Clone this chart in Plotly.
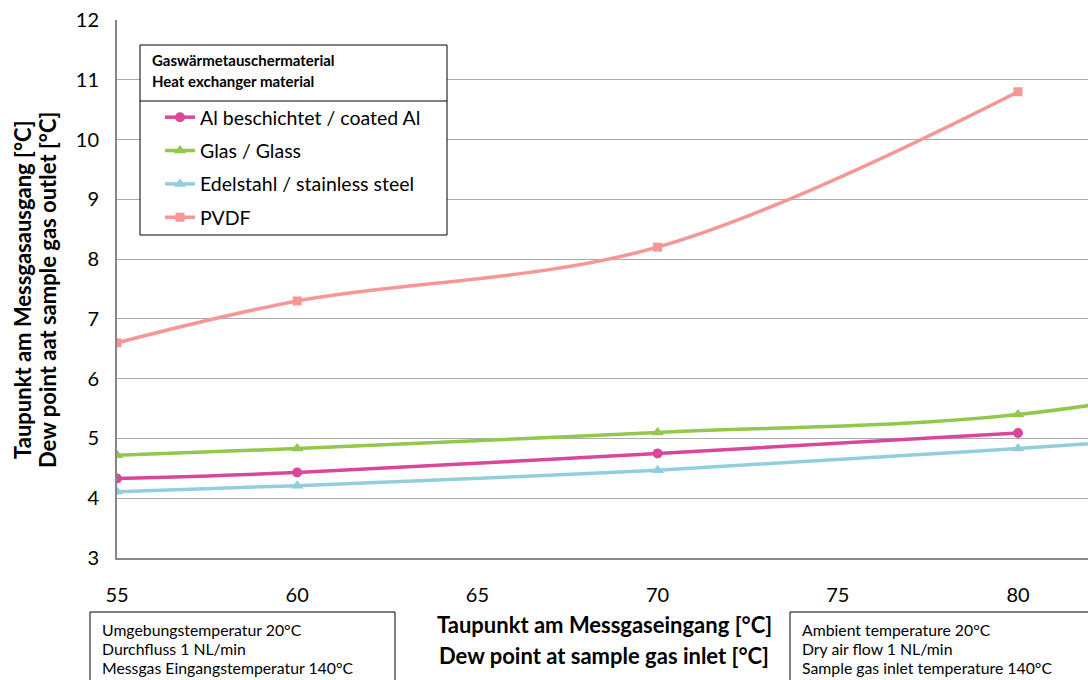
import plotly.graph_objects as go

# ---- data ----
x_al = [55, 60, 70, 80]
y_al = [4.33, 4.43, 4.75, 5.09]
x_glass = [55, 60, 70, 80, 90]
y_glass = [4.72, 4.83, 5.10, 5.40, 6.4]
x_steel = [55, 60, 70, 80, 90]
y_steel = [4.11, 4.21, 4.47, 4.83, 5.25]
x_pvdf = [55, 60, 70, 80]
y_pvdf = [6.6, 7.3, 8.2, 10.8]

names = ["Al beschichtet / coated Al", "Glas / Glass",
         "Edelstahl / stainless steel", "PVDF"]
colors = ["#D9479B", "#92C84B", "#93CEDD", "#F59797"]
symbols = ["circle", "triangle-up", "triangle-up", "square"]
msizes = [10, 11, 11, 9]

x_ticks = [55, 60, 65, 70, 75, 80]
y_ticks = [3, 4, 5, 6, 7, 8, 9, 10, 11, 12]

FONT = "Lato"
W, H = 1088, 680
L, R, T, B = 117, 0, 20, 122
PW, PH = W - L - R, H - T - B


def px(x):
    return (x - L) / PW


def py(y):
    return (H - B - y) / PH


fig = go.Figure()
series = [(x_al, y_al), (x_glass, y_glass), (x_steel, y_steel), (x_pvdf, y_pvdf)]
for i, (xs, ys) in enumerate(series):
    fig.add_trace(go.Scatter(
        x=xs, y=ys, name=names[i], mode="lines+markers",
        line=dict(color=colors[i], width=3.5, shape="spline", smoothing=1.0),
        marker=dict(symbol=symbols[i], size=msizes[i], color=colors[i]),
        legendgroup=f"g{i}", cliponaxis=True,
    ))

shapes = [
    # legend boxes
    dict(type="rect", xref="paper", yref="paper", x0=px(140), x1=px(447),
         y0=py(235), y1=py(45), line=dict(color="black", width=1),
         fillcolor="white", layer="above"),
    dict(type="line", xref="paper", yref="paper", x0=px(140), x1=px(447),
         y0=py(101), y1=py(101), line=dict(color="black", width=1), layer="above"),
    # note boxes
    dict(type="rect", xref="paper", yref="paper", x0=px(90), x1=px(395),
         y0=py(700), y1=py(612), line=dict(color="black", width=1), fillcolor="white"),
    dict(type="rect", xref="paper", yref="paper", x0=px(790), x1=px(1100),
         y0=py(700), y1=py(612), line=dict(color="black", width=1), fillcolor="white"),
]

annotations = [
    dict(text="<b>Gaswärmetauschermaterial</b>", x=px(150), y=py(60), xref="paper",
         yref="paper", xanchor="left", yanchor="middle", showarrow=False,
         font=dict(family=FONT, size=15, color="black")),
    dict(text="<b>Heat exchanger material</b>", x=px(150), y=py(81), xref="paper",
         yref="paper", xanchor="left", yanchor="middle", showarrow=False,
         font=dict(family=FONT, size=15, color="black")),
    dict(text="<b>Taupunkt am Messgaseingang [°C]</b>", x=px(604), y=py(624),
         xref="paper", yref="paper", xanchor="center", yanchor="middle",
         showarrow=False, font=dict(family=FONT, size=22, color="black")),
    dict(text="<b>Dew point at sample gas inlet [°C]</b>", x=px(604), y=py(655),
         xref="paper", yref="paper", xanchor="center", yanchor="middle",
         showarrow=False, font=dict(family=FONT, size=22, color="black")),
    dict(text="<b>Taupunkt am Messgasausgang [°C]</b>", x=px(22), y=py(290),
         xref="paper", yref="paper", xanchor="center", yanchor="middle",
         textangle=-90, showarrow=False, font=dict(family=FONT, size=22, color="black")),
    dict(text="<b>Dew point aat sample gas outlet [°C]</b>", x=px(47), y=py(290),
         xref="paper", yref="paper", xanchor="center", yanchor="middle",
         textangle=-90, showarrow=False, font=dict(family=FONT, size=22, color="black")),
]
left_lines = ["Umgebungstemperatur 20°C", "Durchfluss 1 NL/min",
              "Messgas Eingangstemperatur 140°C"]
right_lines = ["Ambient temperature 20°C", "Dry air flow 1 NL/min",
               "Sample gas inlet temperature 140°C"]
for j, (a, b) in enumerate(zip(left_lines, right_lines)):
    yy = 629 + j * 19.5
    annotations.append(dict(text=a, x=px(100), y=py(yy), xref="paper", yref="paper",
                            xanchor="left", yanchor="middle", showarrow=False,
                            font=dict(family=FONT, size=15.8, color="black")))
    annotations.append(dict(text=b, x=px(800), y=py(yy), xref="paper", yref="paper",
                            xanchor="left", yanchor="middle", showarrow=False,
                            font=dict(family=FONT, size=15.8, color="black")))

fig.update_layout(
    width=W, height=H,
    margin=dict(l=L, r=R, t=T, b=B),
    paper_bgcolor="white", plot_bgcolor="white",
    font=dict(family=FONT, color="black"),
    showlegend=True,
    legend=dict(x=px(160), y=py(98), xanchor="left", yanchor="top",
                bgcolor="rgba(0,0,0,0)", borderwidth=0,
                font=dict(family=FONT, size=19.5, color="black"),
                tracegroupgap=5, itemwidth=30),
    shapes=shapes,
    annotations=annotations,
    xaxis=dict(range=[55, 55 + PW / 36.04], tickvals=x_ticks, showgrid=False,
               zeroline=False, showline=True, linecolor="#868686", linewidth=2,
               ticks="", tickfont=dict(family=FONT, size=20, color="black"),
               ticklabelstandoff=18),
    yaxis=dict(range=[3, 12], tickvals=y_ticks, showgrid=True, gridcolor="#ABABAB",
               gridwidth=1.4, zeroline=False, showline=True, linecolor="#868686",
               linewidth=2, ticks="", tickfont=dict(family=FONT, size=20, color="black"),
               ticklabelstandoff=12),
)

fig.write_html("out.html", config={"displayModeBar": False},
               post_script="document.body.style.margin='0';")
